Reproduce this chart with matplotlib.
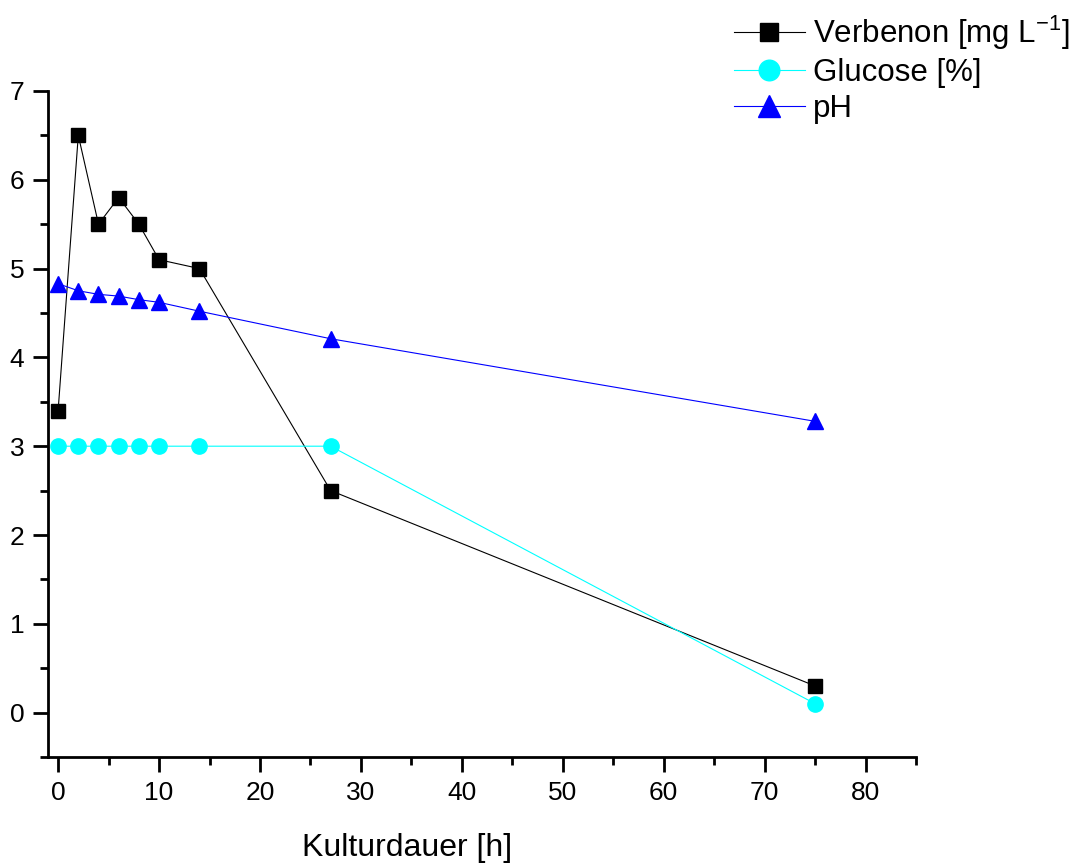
import numpy as np
import matplotlib.pyplot as plt
from matplotlib.ticker import MultipleLocator

plt.rcParams['font.family'] = ['Liberation Sans', 'DejaVu Sans']

# Kulturdauer [h]
hours = [0, 2, 4, 6, 8, 10, 14, 27, 75]
verbenon = [3.4, 6.5, 5.5, 5.8, 5.5, 5.1, 5.0, 2.5, 0.3]
glucose = [3.0, 3.0, 3.0, 3.0, 3.0, 3.0, 3.0, 3.0, 0.1]
ph = [4.83, 4.75, 4.71, 4.69, 4.65, 4.62, 4.52, 4.21, 3.28]

fig = plt.figure(figsize=(10.79, 8.63), dpi=100)
ax = fig.add_axes([0.0445, 0.1228, 0.8045, 0.7718])

ax.plot(hours, verbenon, color='black', lw=0.8, marker='s', ms=9.5,
        label='Verbenon [mg L$^{\\mathregular{-1}}$]')
ax.plot(hours, glucose, color='#00FFFF', lw=0.8, marker='o', ms=11,
        label='Glucose [%]')
ax.plot(hours, ph, color='#0000FF', lw=0.8, marker='^', ms=12,
        label='pH')

ax.set_xlim(-1, 85)
ax.set_ylim(-0.5, 7)
ax.xaxis.set_major_locator(MultipleLocator(10))
ax.xaxis.set_minor_locator(MultipleLocator(5))
ax.yaxis.set_major_locator(MultipleLocator(1))
ax.yaxis.set_minor_locator(MultipleLocator(0.5))

for s in ['top', 'right']:
    ax.spines[s].set_visible(False)
for s in ['left', 'bottom']:
    ax.spines[s].set_linewidth(2)
ax.tick_params(which='major', direction='out', length=11, width=2, labelsize=19, pad=6)
ax.tick_params(which='minor', direction='out', length=6, width=2)

ax.set_xlabel('Kulturdauer [h]', fontsize=23)
ax.xaxis.set_label_coords(0.414, -0.137)
ax.xaxis.label.set_va('center')

fig.legend(loc='upper right', bbox_to_anchor=(1.012, 1.01), frameon=False,
           fontsize=22.5, handlelength=2.3, handletextpad=0.25, labelspacing=0.2,
           markerscale=1.35, borderaxespad=0.3)

fig.savefig('out.png', dpi=100)
